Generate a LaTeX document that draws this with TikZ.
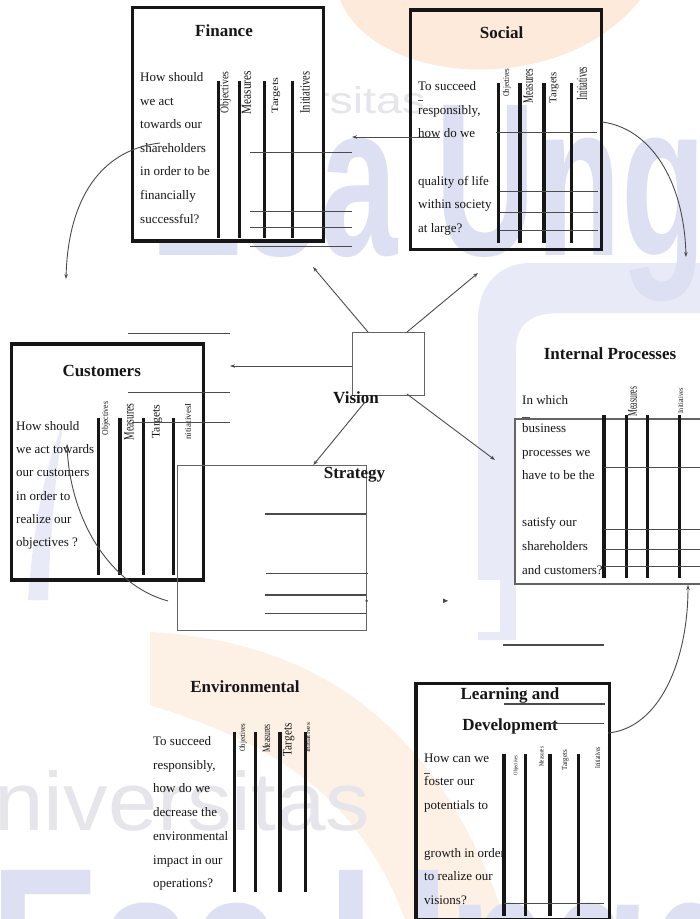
\documentclass[tikz,border=0pt]{standalone}
\usepackage{fontspec}
\usepackage{graphicx}
\setmainfont{Liberation Serif}
\newfontfamily\wmfont{Liberation Sans}
\usetikzlibrary{arrows.meta}

\definecolor{ink}{RGB}{22,22,22}
\definecolor{rule}{RGB}{75,75,75}
\definecolor{frame}{RGB}{100,100,100}
\definecolor{wmblue}{RGB}{221,224,243}
\definecolor{wmgray}{RGB}{229,229,235}
\definecolor{wmorange}{RGB}{253,234,218}
\definecolor{arcblue}{RGB}{232,234,247}
\definecolor{arcorange}{RGB}{253,240,229}

\tikzset{
  card/.style={draw=ink, line width=3.6pt, inner sep=0pt, anchor=north west},
  pane/.style={draw=frame, line width=1.3pt, inner sep=0pt, anchor=north west},
  col/.style={draw=ink, line width=3.2pt},
  rowline/.style={draw=rule, line width=1.1pt},
  link/.style={draw=rule, line width=0.9pt, -{Stealth[length=5pt,width=3.5pt]}},
  body/.style={font=\fontsize{13}{13}\selectfont, text=ink, inner sep=0pt, anchor=base west},
  head/.style={font=\bfseries\fontsize{17}{17}\selectfont, text=ink, inner sep=0pt, anchor=base},
  vl/.style={rotate=90, anchor=north east, inner sep=0pt, text=ink},
  wm/.style={inner sep=0pt, anchor=base west},
}
% rotated column heading: name, x, top y, length, height, text
\newcommand\vlab[6]{\node[vl] (#1) at (#2,#3) {\resizebox{#4pt}{#5pt}{#6}};}

\begin{document}
\begin{tikzpicture}[x=1pt,y=-1pt]
\useasboundingbox (0,0) rectangle (700,919);
\fill[white] (0,0) rectangle (700,919);

% faint university watermark behind the chart
\begin{scope}
  \clip (0,0) rectangle (700,919);
  % logo swooshes
  \fill[arcblue] (700,263) -- (530,263) .. controls (500,263) and (478,285) .. (478,320)
        -- (478,640) -- (516,640) -- (516,350) .. controls (516,325) and (530,313) .. (560,313)
        -- (700,313) -- cycle;
  \fill[arcblue] (63,425) .. controls (55,480) and (50,540) .. (48,600)
        -- (28,600) .. controls (34,520) and (46,462) .. (63,425) -- cycle;
  \fill[arcorange] (150,632) .. controls (290,640) and (430,700) .. (505,919)
        -- (405,919) .. controls (360,800) and (280,745) .. (150,705) -- cycle;
  \fill[wmorange] (340,0) .. controls (375,85) and (560,100) .. (640,0) -- cycle;
  % lettering
  \node[wm, text=wmgray] (wm-univ) at (195,113) {\resizebox{230pt}{27pt}{\wmfont Universitas}};
  \node[wm, text=wmblue] (wm-esa) at (150,255) {\resizebox{640pt}{150pt}{\wmfont\bfseries Esa Ungg}};
  \node[wm, text=wmgray] (wm-univ2) at (-70,830) {\resizebox{440pt}{60pt}{\wmfont Universitas}};
  \node[wm, text=wmblue] (wm-esa2) at (-10,1020) {\resizebox{760pt}{150pt}{\wmfont\bfseries Esa Ungg}};
  % plain white panel behind the strategy block
  \fill[white] (62,580) rectangle (500,632);
\end{scope}

% ---------------- Finance ----------------
\node[card, fill=white, minimum width=190.9pt, minimum height=233.3pt] (fin) at (130.8,5.7) {};
\node[head] (fin-h) at (224,36.7) {Finance};
\node[body] (fin-t1) at (140,81.5) {How should};
\node[body] (fin-t2) at (140,105.1) {we act};
\node[body] (fin-t3) at (140,128.7) {towards our};
\node[body] (fin-t4) at (140,152.3) {shareholders};
\node[body] (fin-t5) at (140,175.9) {in order to be};
\node[body] (fin-t6) at (140,199.5) {financially};
\node[body] (fin-t7) at (140,223.1) {successful?};
\foreach \x in {218.3,239.3,264.3,292.7} \draw[col] (\x,81) -- (\x,238.3);
\vlab{fin-l1}{220}{71.7}{41.4}{8.1}{Objectives}
\vlab{fin-l2}{241.7}{70.7}{43.3}{9}{Measures}
\vlab{fin-l3}{271.7}{77.3}{36}{6.3}{Targets}
\vlab{fin-l4}{300}{71.7}{41.6}{9.3}{Initiatives}
\foreach \y in {152.7,211.7,227.7,246.7} \draw[rowline] (250,\y) -- (352,\y);

% ---------------- Social ----------------
\node[card, minimum width=190.8pt, minimum height=239.4pt] (soc) at (408.7,8.3) {};
\node[head] (soc-h) at (501.7,38.3) {Social};
\node[body] (soc-t1) at (418,90.5) {To succeed};
\node[body] (soc-t2) at (418,114.1) {responsibly,};
\node[body] (soc-t3) at (418,137.7) {how do we};
\node[body] (soc-t4) at (418,185) {quality of life};
\node[body] (soc-t5) at (418,208.7) {within society};
\node[body] (soc-t6) at (418,232.4) {at large?};
\draw[rule, line width=0.8pt] (418.3,100.5) -- (423.3,100.5);
\foreach \x in {498.3,520,544,571.7} \draw[col] (\x,83.3) -- (\x,243.3);
\vlab{soc-l1}{502.7}{68.3}{28.4}{6.1}{Objectives}
\vlab{soc-l2}{523.3}{68.3}{35}{9.4}{Measures}
\vlab{soc-l3}{549.3}{71.7}{31.6}{6.8}{Targets}
\vlab{soc-l4}{576.7}{66.7}{33.3}{10}{Initiatives}
\draw[rowline] (496,132.3) -- (597.3,132.3);
\foreach \y in {191.7,212.7,230.7} \draw[rowline] (500,\y) -- (598,\y);

% ---------------- Customers ----------------
\node[card, minimum width=192.2pt, minimum height=235.7pt] (cus) at (9.5,342.3) {};
\node[head] (cus-h) at (101.7,376.5) {Customers};
\node[body] (cus-t1) at (16,430) {How should};
\node[body] (cus-t2) at (16,453.3) {we act towards};
\node[body] (cus-t3) at (16,476.6) {our customers};
\node[body] (cus-t4) at (16,500) {in order to};
\node[body] (cus-t5) at (16,523.3) {realize our};
\node[body] (cus-t6) at (16,546.6) {objectives ?};
\foreach \x in {98.3,120,143.3,173.3} \draw[col] (\x,418.3) -- (\x,575);
\vlab{cus-l1}{101.7}{401.7}{33.3}{6.3}{Objectives}
\vlab{cus-l2}{124}{403.3}{36.7}{9.3}{Measures}
\vlab{cus-l3}{151.7}{404.3}{34}{7.6}{Targets}
\vlab{cus-l4}{185}{403.3}{36}{5.7}{nitiativesI}
\draw[rowline] (128.3,333.3) -- (230,333.3);
\draw[rowline] (128.3,392.3) -- (230,392.3);
\draw[rowline] (131.7,422.7) -- (230,422.7);

% ---------------- Vision ----------------
\node[pane, minimum width=72pt, minimum height=63pt] (vis) at (352,332) {};
\node[head] (vis-h) at (356,403) {Vision};

% ---------------- Strategy ----------------
\node[pane, minimum width=189.3pt, minimum height=165pt] (str) at (176.7,465) {};
\node[head] (str-h) at (354.5,478) {Strategy};
\draw[rowline] (265,514) -- (366,514);
\draw[rowline] (266,573.3) -- (368,573.3);
\draw[rowline] (265,595) -- (366,595);
\draw[rowline] (265,613.3) -- (366,613.3);

% ---------------- Internal Processes ----------------
\node[pane, fill=white, minimum width=220pt, minimum height=165pt] (ipr) at (514.3,418.3) {};
\node[head] (ipr-h) at (610,359) {Internal Processes};
\node[body] (ipr-t0) at (522,404.5) {In which};
\draw[rule, line width=0.8pt] (521.7,417) -- (530,417);
\node[body] (ipr-t1) at (522,432.5) {business};
\node[body] (ipr-t2) at (522,456.1) {processes we};
\node[body] (ipr-t3) at (522,479.7) {have to be the};
\node[body] (ipr-t4) at (522,526.9) {satisfy our};
\node[body] (ipr-t5) at (522,550.5) {shareholders};
\node[body] (ipr-t6) at (522,574.1) {and customers?};
\foreach \x in {604,626.7,647.3,679.3} \draw[col] (\x,415) -- (\x,578.3);
\vlab{ipr-l2}{628}{386.7}{29.3}{8.7}{Measures}
\vlab{ipr-l4}{678}{388}{25}{5}{Initiatives}
\foreach \y in {467.7,529.3,549.3,566.7} \draw[rowline] (604,\y) -- (700,\y);
\draw[rowline] (503.3,645) -- (604,645);

% ---------------- Environmental ----------------
\node[head] (env-h) at (245,692.5) {Environmental};
\node[body] (env-t1) at (153,745.5) {To succeed};
\node[body] (env-t2) at (153,769.2) {responsibly,};
\node[body] (env-t3) at (153,792.9) {how do we};
\node[body] (env-t4) at (153,816.6) {decrease the};
\node[body] (env-t5) at (153,840.3) {environmental};
\node[body] (env-t6) at (153,864) {impact in our};
\node[body] (env-t7) at (153,887.7) {operations?};
\foreach \x in {234.3,255.7,280,305.7} \draw[col] (\x,731.7) -- (\x,892.3);
\vlab{env-l1}{239.3}{723.3}{28.4}{5.6}{Objectives}
\vlab{env-l2}{262.7}{724}{28.7}{7.3}{Measures}
\vlab{env-l3}{282.7}{723.3}{32.7}{8.6}{Targets}
\vlab{env-l4}{305.7}{722.7}{30}{4.3}{Initiatives}

% ---------------- Learning and Development ----------------
\fill[white] (504,704) rectangle (605,737);
\node[card, minimum width=193.4pt, minimum height=235.8pt] (lrn) at (414.3,681.7) {};
\node[head] (lrn-h1) at (510,699) {Learning and};
\node[head] (lrn-h2) at (510,730) {Development};
\draw[rowline] (504,704) -- (605,704);
\draw[rowline] (546,723.3) -- (604,723.3);
\node[body] (lrn-t1) at (424,762) {How can we};
\draw[rule, line width=0.8pt] (424,773.3) -- (430,773.3);
\node[body] (lrn-t2) at (424,785.8) {foster our};
\node[body] (lrn-t3) at (424,809.5) {potentials to};
\node[body] (lrn-t4) at (424,857) {growth in order};
\node[body] (lrn-t5) at (424,880.8) {to realize our};
\node[body] (lrn-t6) at (424,904.5) {visions?};
\foreach \x in {504,525.3,550,578.3} \draw[col] (\x,754) -- (\x,916);
\vlab{lrn-l1}{513.3}{755}{20}{3.8}{Objectives}
\vlab{lrn-l2}{539}{746.7}{20}{4.3}{Measures}
\vlab{lrn-l3}{561.7}{750}{20}{5.1}{Targets}
\vlab{lrn-l4}{595}{746.7}{21.7}{5}{Initiatives}
\draw[rowline] (504,903.3) -- (604,903.3);

% ---------------- connector end points ----------------
\coordinate (v-fin) at (368,332);
\coordinate (v-soc) at (407,332);
\coordinate (v-cus) at (352,366);
\coordinate (v-str) at (365,402);
\coordinate (v-ipr) at (407,394);
\coordinate (to-fin) at (313,267);
\coordinate (to-soc) at (478,273);
\coordinate (to-cus) at (230,366);
\coordinate (to-str) at (313.3,465);
\coordinate (to-ipr) at (495,460);
\coordinate (soc-in) at (440,137);
\coordinate (soc-out) at (352,137);
\coordinate (fin-out) at (160,143);
\coordinate (fin-end) at (66,279);
\coordinate (soc-side) at (602,122);
\coordinate (soc-end) at (686,257);
\coordinate (cus-start) at (168,601);
\coordinate (cus-end) at (67,444);
\coordinate (lrn-side) at (608,733);
\coordinate (lrn-end) at (688,585);

% ---------------- connectors ----------------
\draw[link] (v-fin) -- (to-fin);
\draw[link] (v-soc) -- (to-soc);
\draw[link] (v-cus) -- (to-cus);
\draw[link] (v-str) -- (to-str);
\draw[link] (v-ipr) -- (to-ipr);
\draw[link] (soc-in) -- (soc-out);
\draw[link] (fin-out) .. controls (100,150) and (68,200) .. (fin-end);
\draw[link] (soc-side) .. controls (650,128) and (684,180) .. (soc-end);
\draw[link] (cus-start) .. controls (110,585) and (70,520) .. (cus-end);
\draw[link] (lrn-side) .. controls (660,728) and (688,660) .. (lrn-end);

% small stray markers on the strategy row
\fill[rule] (366.6,600.8) circle (1.4pt);
\fill[rule] (443,598.5) -- (448,600.8) -- (443,603.1) -- cycle;
\end{tikzpicture}
\end{document}
